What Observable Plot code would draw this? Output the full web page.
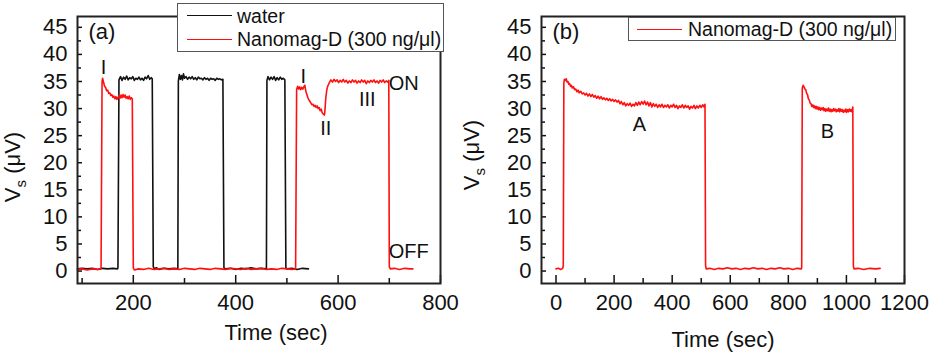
<!DOCTYPE html>
<html><head><meta charset="utf-8">
<script src="https://cdn.jsdelivr.net/npm/d3@7"></script>
<script src="https://cdn.jsdelivr.net/npm/@observablehq/plot@0.6"></script>
<style>
body{margin:0;background:#fff;}
#wrap{position:relative;width:932px;height:355px;display:flex;font-family:"Liberation Sans",Arial,Helvetica,sans-serif;}
#wrap svg{flex:none;}
.lg{position:absolute;box-sizing:border-box;border:1.5px solid #555;background:#fff;}
.ln{position:absolute;height:0;width:45px;}
.lt{position:absolute;font-size:19.5px;line-height:19.5px;color:#111;white-space:nowrap;}
</style></head><body><div id="wrap"></div>
<script>
// ---------- data: panel (a) ----------
const waterA = [
[91,0.4],[100,0.5],[110,0.4],[120,0.5],[130,0.3],[140,0.5],[150,0.4],[160,0.5],[169,0.4],
[170,0.6],[172,35.3],[175,35.9],[178,35.2],[181,35.8],[184,35.4],[187,36.0],[190,35.3],[193,35.7],[196,35.5],[199,35.9],[202,35.2],[205,35.6],[208,35.4],[211,35.8],[214,35.3],[217,35.6],[220,35.2],[223,35.8],[226,35.5],[229,36.1],[232,35.4],[235,35.7],[237,35.5],
[239,0.8],[241,0.4],[245,0.6],[250,0.3],[260,0.5],[270,0.4],[280,0.5],[287,0.4],
[288,35.1],[290,36.3],[292,35.4],[294,36.1],[296,35.3],[298,36.4],[300,35.6],[303,35.9],[306,35.4],[309,35.8],[312,35.5],[315,35.9],[318,35.4],[321,35.7],[324,35.3],[327,35.8],[330,35.5],[333,35.6],[336,35.3],[339,35.7],[342,35.4],[345,35.6],[348,35.2],[351,35.6],[354,35.4],[357,35.5],[360,35.2],[363,35.6],[366,35.4],[369,35.5],[372,35.3],[375,35.4],
[377,0.6],[380,0.4],[390,0.5],[400,0.3],[410,0.5],[420,0.4],[430,0.6],[440,0.4],[450,0.5],[460,0.4],
[461,35.2],[463,35.9],[466,35.3],[469,35.8],[472,35.4],[475,35.9],[478,35.2],[481,35.7],[484,35.3],[487,35.8],[490,35.4],[493,35.6],[496,35.3],
[498,0.6],[500,0.4],[510,0.5],[520,0.3],[530,0.5],[542,0.4]
];
const nanoA = [
[91,0.3],[100,0.4],[110,0.2],[120,0.4],[130,0.3],[137,0.4],
[139,35.0],[140,35.6],[142,34.8],[144,34.1],[146,33.9],[148,33.3],[150,33.4],[152,32.8],[154,32.9],[156,32.4],[158,32.6],[160,32.1],[162,32.3],[164,31.8],[166,32.2],[168,31.7],[170,32.0],[172,32.4],[174,31.9],[176,32.5],[178,32.0],[180,32.6],[182,32.1],[184,32.5],[186,31.9],[188,32.2],[190,31.8],[192,32.3],[194,31.7],[196,32.0],[198,31.8],
[200,0.6],[202,0.2],[210,0.4],[220,0.3],[230,0.5],[240,0.3],[250,0.4],[260,0.5],[270,0.3],[280,0.4],[290,0.3],[300,0.5],[310,0.4],[320,0.3],[330,0.5],[340,0.4],[350,0.3],[360,0.5],[370,0.4],[380,0.3],[390,0.5],[400,0.4],[410,0.3],[420,0.5],[430,0.3],[440,0.4],[450,0.5],[460,0.3],[470,0.4],[480,0.3],[490,0.5],[500,0.4],[510,0.3],[517,0.4],
[519,33.5],[521,34.1],[523,33.6],[525,34.0],[527,33.5],[529,33.9],[531,33.6],[533,34.0],[535,34.3],[537,33.2],[539,32.6],[541,32.0],[543,31.6],[545,31.3],[547,31.0],[549,30.7],[551,30.8],[553,30.4],[555,30.6],[557,30.2],[559,30.5],[561,30.0],[563,30.2],[565,29.6],[567,29.9],[569,29.2],[571,29.0],[573,28.8],[574,29.3],[576,32.0],[578,33.5],[580,34.2],[582,34.6],[584,35.0],[586,35.3],
[589,34.9],[592,35.4],[595,35.0],[598,35.3],[601,34.8],[604,35.2],[607,34.9],[610,35.4],[613,34.9],[616,35.2],[619,34.7],[622,35.1],[625,34.8],[628,35.3],[631,34.9],[634,35.2],[637,34.7],[640,35.1],[643,34.8],[646,35.3],[649,34.9],[652,35.2],[655,34.6],[658,35.1],[661,34.8],[664,35.2],[667,34.9],[670,35.3],[673,34.8],[676,35.1],[679,34.7],[682,35.2],[685,34.9],[688,35.3],[691,34.8],[694,35.1],[697,34.9],[699,35.2],
[700,0.8],[702,0.4],[710,0.5],[720,0.3],[730,0.5],[740,0.4],[746,0.4]
];
// ---------- data: panel (b) ----------
const nanoB = [
[0,0.4],[8,0.5],[16,0.3],[23,0.5],[25,1.0],[27,34.8],[29,35.4],[32,35.2],[35,35.5],[38,34.9],[41,35.0],[44,34.5],[47,34.6],[50,34.1],[53,34.3],[56,33.8],[60,34.0],[64,33.5],[68,33.6],[72,33.1],[76,33.4],[80,32.9],[85,33.2],[90,32.7],[95,32.9],[100,32.5],[105,32.8],[110,32.3],[115,32.7],[120,32.2],[125,32.6],[130,32.1],[135,32.4],[140,31.9],[145,32.3],[150,31.8],[155,32.2],[160,31.7],[165,32.0],[170,31.6],[175,31.9],[180,31.5],[185,31.8],[190,31.4],[195,31.7],[200,31.3],[205,31.6],[210,31.2],[215,31.5],[220,30.9],[225,31.3],[230,30.7],[235,31.1],[240,30.5],[245,30.9],[250,30.6],[255,31.0],[260,30.4],[265,30.8],[270,30.5],[275,31.1],[280,30.6],[285,31.2],[290,30.7],[295,31.3],[300,30.8],[305,31.4],[310,30.7],[315,31.2],[320,30.5],[325,31.1],[330,30.3],[335,30.9],[340,30.4],[345,30.8],[350,30.2],[355,30.7],[360,30.3],[365,30.8],[370,30.2],[375,30.6],[380,30.3],[385,30.7],[390,30.1],[395,30.6],[400,30.3],[405,30.8],[410,30.2],[415,30.6],[420,30.0],[425,30.5],[430,30.2],[435,30.7],[440,30.1],[445,30.6],[450,30.2],[455,30.5],[460,29.9],[465,30.4],[470,30.1],[475,30.6],[480,30.0],[485,30.5],[490,30.1],[495,30.6],[500,30.2],[505,30.7],[510,30.3],[513,30.8],
[515,1.0],[517,0.4],[530,0.5],[545,0.3],[560,0.5],[575,0.4],[590,0.6],[605,0.4],[620,0.5],[635,0.3],[650,0.5],[665,0.4],[680,0.6],[695,0.4],[710,0.5],[725,0.3],[740,0.5],[755,0.4],[770,0.6],[785,0.4],[800,0.5],[815,0.3],[830,0.5],[845,0.4],
[846,0.6],[848,33.8],[851,34.3],[854,34.0],[857,33.6],[860,33.5],[863,32.8],[866,32.6],[869,31.8],[872,31.6],[875,31.0],[878,30.9],[881,30.4],[884,30.7],[887,30.2],[890,30.5],[893,30.0],[896,30.4],[899,29.9],[902,30.3],[905,29.8],[908,30.2],[911,29.7],[914,30.1],[917,29.8],[920,30.2],[923,29.6],[926,30.0],[929,29.5],[932,29.9],[935,29.6],[938,30.1],[941,29.5],[944,29.9],[947,29.4],[950,29.8],[953,29.5],[956,30.0],[959,29.6],[962,29.9],[965,29.4],[968,29.8],[971,29.5],[974,30.0],[977,29.4],[980,29.9],[983,29.5],[986,29.8],[989,29.3],[992,29.7],[995,29.4],[998,29.9],[1001,29.3],[1004,29.8],[1007,29.4],[1010,29.9],[1013,29.5],[1016,29.8],[1019,29.4],[1022,30.3],
[1024,0.9],[1026,0.4],[1040,0.5],[1060,0.3],[1080,0.5],[1100,0.4],[1116,0.5]
];
// ---------- ticks and labels ----------
const yMajor = [0,5,10,15,20,25,30,35,40,45];
const yMinor = [2.5,7.5,12.5,17.5,22.5,27.5,32.5,37.5,42.5];
const xMajorA = [200,400,600,800];
const xMinorA = [100,300,500,700];
const xMajorB = [0,200,400,600,800,1000,1200];
const xMinorB = [100,300,500,700,900,1100];
const annTextA = ["I","I","II","III","ON","OFF"];
const annXA = [142,532,576,657,728,738];
const annYA = [37.6,35.9,26.3,31.7,34.7,3.5];
const annTextB = ["A","B"];
const annXB = [287,935];
const annYB = [27.1,25.8];
const xLabel = "Time (sec)";
const yLabel = "Vs (μV)";
const legendNames = ["water","Nanomag-D (300 ng/μl)"];

const FONT = '"Liberation Sans", Arial, Helvetica, sans-serif';
const RED = "#ff1010";
const fmt = d => String(d);

function panel({xDomain, mL, mR, lines, xMajor, xMinor, ann, tag, xlabDx, xlabDy, ylabDx, ylabDy}) {
  const svg = Plot.plot({
    width: 466, height: 355,
    marginLeft: mL, marginRight: mR, marginTop: 16, marginBottom: 72,
    x: {domain: xDomain},
    y: {domain: [-2.3, 47]},
    style: {fontFamily: FONT, fontSize: "22px", color: "#111", background: "white", overflow: "visible"},
    marks: [
      ...lines.map(l => Plot.line(l.data, {x: d => d[0], y: d => d[1], stroke: l.color, strokeWidth: 1.6})),
      Plot.axisY(yMajor, {tickSize: -5, tickFormat: () => "", label: null, strokeWidth: 1.5}),
      Plot.axisY(yMinor, {tickSize: -4, tickFormat: () => "", label: null, strokeWidth: 1.5}),
      Plot.axisY(yMajor, {tickSize: 0, tickPadding: 10, label: null, tickFormat: fmt, fontSize: 22}),
      Plot.axisX(xMajor, {tickSize: -8, tickFormat: () => "", label: null, strokeWidth: 1.5}),
      Plot.axisX(xMinor, {tickSize: -5, tickFormat: () => "", label: null, strokeWidth: 1.5}),
      Plot.axisX(xMajor, {tickSize: 0, tickPadding: 11, label: null, tickFormat: fmt, fontSize: 22}),
      Plot.frame({stroke: "#222", strokeWidth: 2}),
      Plot.text(ann, {x: "x", y: "y", text: "t", fontSize: 20, fill: "#111"}),
      Plot.text([tag], {frameAnchor: "top-left", textAnchor: "start", lineAnchor: "middle", dx: 11, dy: 15, fontSize: 22, fill: "#111"}),
      Plot.text([xLabel], {frameAnchor: "bottom", textAnchor: "middle", lineAnchor: "middle", dx: xlabDx, dy: xlabDy, fontSize: 22, fill: "#111"}),
      Plot.text([yLabel], {frameAnchor: "left", textAnchor: "middle", lineAnchor: "middle", rotate: -90, dx: ylabDx, dy: ylabDy, fontSize: 22, fill: "#111"})
    ]
  });
  d3.select(svg).selectAll("text").filter(function(){ return this.textContent === yLabel; })
    .html('V<tspan dy="6" font-size="15">s</tspan><tspan dy="-6"> (μV)</tspan>');
  return svg;
}

const annA = annTextA.map((t,i) => ({t, x: annXA[i], y: annYA[i]}));
const annB = annTextB.map((t,i) => ({t, x: annXB[i], y: annYB[i]}));

const wrap = document.getElementById("wrap");
wrap.appendChild(panel({xDomain: [91, 800], mL: 77, mR: 26,
  lines: [{data: waterA, color: "#111"}, {data: nanoA, color: RED}],
  xMajor: xMajorA, xMinor: xMinorA, ann: annA, tag: "(a)",
  xlabDx: 17, xlabDy: 49, ylabDx: -65, ylabDy: 17}));
wrap.appendChild(panel({xDomain: [-50, 1200], mL: 75, mR: 28,
  lines: [{data: nanoB, color: RED}],
  xMajor: xMajorB, xMinor: xMinorB, ann: annB, tag: "(b)",
  xlabDx: 0, xlabDy: 56, ylabDx: -70, ylabDy: 5}));

// legends (opaque boxes over the frames, as in the figure)
function add(cls, css, text) {
  const el = document.createElement("div");
  el.className = cls; el.style.cssText = css;
  if (text) el.textContent = text;
  wrap.appendChild(el);
}
add("lg", "left:177px;top:3px;width:267px;height:49px;");
add("ln", "left:187px;top:15px;border-top:1.6px solid #111;");
add("lt", "left:237px;top:6.8px;", legendNames[0]);
add("ln", "left:187px;top:39px;border-top:1.6px solid " + RED + ";");
add("lt", "left:237px;top:30.2px;", legendNames[1]);
add("lg", "left:628px;top:17px;width:268px;height:24px;");
add("ln", "left:637px;top:29px;border-top:1.6px solid " + RED + ";");
add("lt", "left:688px;top:20.2px;", legendNames[1]);
</script></body></html>
